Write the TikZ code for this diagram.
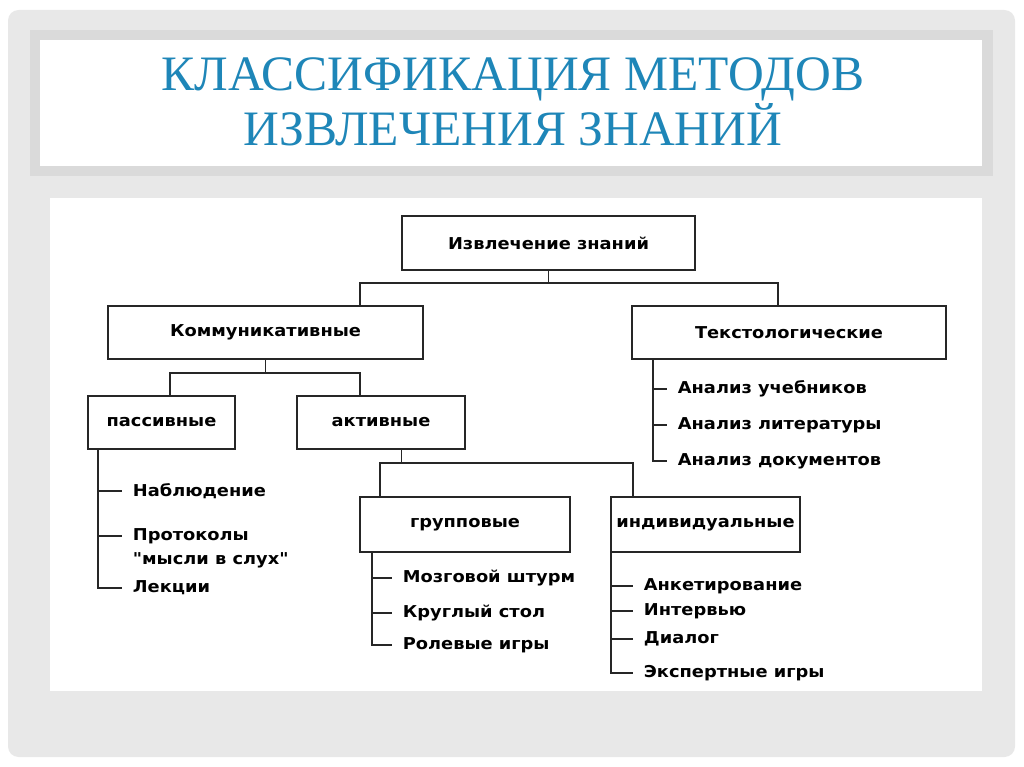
\documentclass[tikz,border=0pt]{standalone}
\usepackage{fontspec}
\setmainfont{Liberation Serif}
\newfontfamily\diagfont{DejaVu Sans}[FakeStretch=1.09]
\definecolor{panelgray}{RGB}{232,232,232}
\definecolor{framegray}{RGB}{218,218,218}
\definecolor{titleblue}{RGB}{30,134,184}
\begin{document}
\begin{tikzpicture}[x=0.02cm, y=-0.02cm,
  box/.style={draw=black!85, line width=0.8pt, inner sep=0pt,
    font=\diagfont\bfseries\fontsize{9.3}{11}\selectfont},
  item/.style={anchor=west, inner xsep=6pt, inner ysep=1pt, align=left,
    font=\diagfont\bfseries\fontsize{9.3}{13.7}\selectfont},
  tree/.style={draw=black!85, line width=0.8pt}
]
\useasboundingbox (0,0) rectangle (1024,767);

%% slide background and title band
\fill[panelgray, rounded corners=6pt] (8,10) rectangle (1015,757);
\fill[framegray] (30,30) rectangle (993,176);
\fill[white] (40,40) rectangle (982,166);
\fill[white] (50,198) rectangle (982,691);
\node[titleblue, align=center, font=\fontsize{28.2}{31.3}\selectfont] (title) at (513,102)
  {КЛАССИФИКАЦИЯ МЕТОДОВ\\ИЗВЛЕЧЕНИЯ ЗНАНИЙ};

%% boxes
\node[box, minimum width=5.86cm, minimum height=1.08cm] (root)  at (548.5,243)   {Извлечение знаний};
\node[box, minimum width=6.30cm, minimum height=1.06cm] (komm)  at (265.5,332.5) {Коммуникативные};
\node[box, minimum width=6.28cm, minimum height=1.06cm] (tekst) at (789,332.5)   {Текстологические};
\node[box, minimum width=2.94cm, minimum height=1.06cm] (pass)  at (161.5,422.5) {пассивные};
\node[box, minimum width=3.36cm, minimum height=1.06cm] (akt)   at (381,422.5)   {активные};
\node[box, minimum width=4.20cm, minimum height=1.10cm] (grup)  at (465,524.5)   {групповые};
\node[box, minimum width=3.78cm, minimum height=1.10cm] (indiv) at (705.5,524.5) {индивидуальные};

%% branch points
\coordinate (b1) at (360,283);
\coordinate (b2) at (778,283);
\coordinate (b3) at (170,373);
\coordinate (b4) at (360,373);
\coordinate (b5) at (380,463);
\coordinate (b6) at (633,463);

\draw[tree] (root.south) |- (b1) -- (b1 |- komm.north);
\draw[tree] (root.south) |- (b2) -- (b2 |- tekst.north);
\draw[tree] (komm.south) |- (b3) -- (b3 |- pass.north);
\draw[tree] (komm.south) |- (b4) -- (b4 |- akt.north);
\draw[tree] ([xshift=11.7pt]akt.south) |- (b5) -- (b5 |- grup.north);
\draw[tree] ([xshift=11.7pt]akt.south) |- (b6) -- (b6 |- indiv.north);

%% lists
\coordinate (ps) at (98,449);
\coordinate (ts) at (653,359);
\coordinate (gs) at (372,552);
\coordinate (is) at (611,552);

\node[item] (p1) at (122,491) {Наблюдение};
\node[item] (p2) at (122,548) {Протоколы\\"мысли в слух"};
\node[item] (p3) at (122,588) {Лекции};

\node[item] (t1) at (667,389) {Анализ учебников};
\node[item] (t2) at (667,425) {Анализ литературы};
\node[item] (t3) at (667,461) {Анализ документов};

\node[item] (g1) at (392,578) {Мозговой штурм};
\node[item] (g2) at (392,613) {Круглый стол};
\node[item] (g3) at (392,645) {Ролевые игры};

\node[item] (i1) at (633,586) {Анкетирование};
\node[item] (i2) at (633,611) {Интервью};
\node[item] (i3) at (633,639) {Диалог};
\node[item] (i4) at (633,673) {Экспертные игры};

\draw[tree] (ps) |- (p3.west);
\draw[tree] (ps |- p1.west) -- (p1.west);
\draw[tree] ([yshift=6.8pt]p2.west -| ps) -- ([yshift=6.8pt]p2.west);

\draw[tree] (ts) |- (t3.west);
\foreach \n in {t1,t2} \draw[tree] (ts |- \n.west) -- (\n.west);

\draw[tree] (gs) |- (g3.west);
\foreach \n in {g1,g2} \draw[tree] (gs |- \n.west) -- (\n.west);

\draw[tree] (is) |- (i4.west);
\foreach \n in {i1,i2,i3} \draw[tree] (is |- \n.west) -- (\n.west);
\end{tikzpicture}
\end{document}
